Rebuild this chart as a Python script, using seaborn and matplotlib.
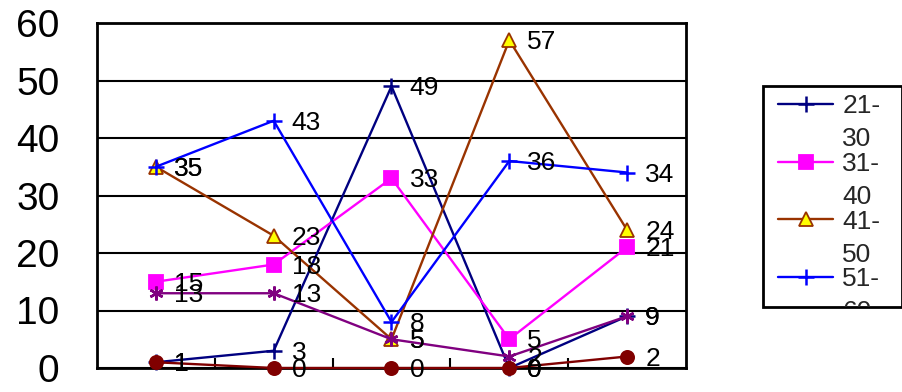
import matplotlib
matplotlib.use('Agg')
import numpy as np
import pandas as pd
import matplotlib.pyplot as plt
import seaborn as sns
from matplotlib.patches import Rectangle
from matplotlib.transforms import Bbox

# Data
positions = [0, 1, 2, 3, 4]
ageGroups = ['21-30', '31-40', '41-50', '51-60', '61-70', '71-80']
v2130 = [1, 3, 49, 0, 9]
v3140 = [15, 18, 33, 5, 21]
v4150 = [35, 23, 5, 57, 24]
v5160 = [35, 43, 8, 36, 34]
v6170 = [13, 13, 5, 2, 9]
v7180 = [1, 0, 0, 0, 2]
seriesValues = [v2130, v3140, v4150, v5160, v6170, v7180]

data = pd.DataFrame({'pos': positions * len(ageGroups),
                     'group': np.repeat(ageGroups, len(positions)),
                     'value': sum(seriesValues, [])})

# Styles
colors = ['#000080', '#FF00FF', '#993300', '#0000FF', '#800080', '#800000']
markers = ['+', 's', '^', '+', (6, 2, 0), 'o']
faces = ['#000080', '#FF00FF', '#FFFF00', '#0000FF', '#800080', '#800000']
sizes = [11, 10.5, 10, 11, 10, 9.5]

sns.set_theme(style='white')
plt.rcParams['font.family'] = ['Liberation Sans', 'DejaVu Sans']

fig = plt.figure(figsize=(9.03, 3.92), dpi=100)
ax = fig.add_axes([97/903, 1 - 368/392, 589/903, 345/392])

handles = []
for i, g in enumerate(ageGroups):
    sub = data[data['group'] == g]
    sns.lineplot(data=sub, x='pos', y='value', ax=ax, color=colors[i],
                 marker=markers[i], markersize=sizes[i], mfc=faces[i],
                 mec=colors[i], mew=1.8 if markers[i] in ['+', (6, 2, 0)] else 1.3,
                 linewidth=1.7, clip_on=False, zorder=3 + i)
    handles.append(ax.lines[-1])
    for x, v in zip(sub['pos'], sub['value']):
        ax.annotate(str(v), (x, v), xytext=(13, -1.5), textcoords='offset points',
                    va='center', ha='left', fontsize=19, color='black',
                    zorder=20, annotation_clip=False)

ax.set_xlim(-0.5, 4.5)
ax.set_ylim(0, 60)
ax.set_yticks(range(0, 61, 10))
ax.set_xticks([0.5, 1.5, 2.5, 3.5])
ax.set_xticklabels([])
ax.set_xlabel('')
ax.set_ylabel('')
ax.tick_params(axis='y', length=0, pad=27, labelsize=28, labelcolor='black')
ax.tick_params(axis='x', direction='in', length=7, width=1.5, color='black', bottom=True)
ax.grid(axis='y', color='black', linewidth=1.5)
ax.grid(axis='x', visible=False)
for s in ax.spines.values():
    s.set_color('black')
    s.set_linewidth(2)
ax.set_axisbelow(True)

# Legend (box clips the wrapped labels, like the original)
boxLeft, boxTop, boxRight, boxBottom = 763, 86, 902, 307
leg = fig.legend(handles[:4], [g.split('-')[0] + '-' for g in ageGroups[:4]],
                 loc='upper left', bbox_to_anchor=(778/903, 1 - 94/392),
                 frameon=False, fontsize=19, handlelength=2.1, handletextpad=0.33,
                 labelspacing=1.28, borderpad=0, borderaxespad=0)
frame = Rectangle((boxLeft/903, 1 - boxBottom/392), (boxRight - boxLeft)/903,
                  (boxBottom - boxTop)/392, transform=fig.transFigure,
                  fill=False, edgecolor='black', linewidth=2)
fig.add_artist(frame)

fig.canvas.draw()
clip = Bbox.from_extents(boxLeft, 392 - boxBottom, boxRight, 392 - boxTop)
for t, g in zip(leg.get_texts(), ageGroups[:4]):
    bb = t.get_window_extent()
    second = fig.text(bb.x0, (bb.y0 + bb.y1) / 2 - 33, g.split('-')[1],
                      transform=None, fontsize=19, va='center', ha='left')
    second.set_clip_box(clip)
    second.set_clip_on(True)

fig.savefig('out.png', dpi=100)
